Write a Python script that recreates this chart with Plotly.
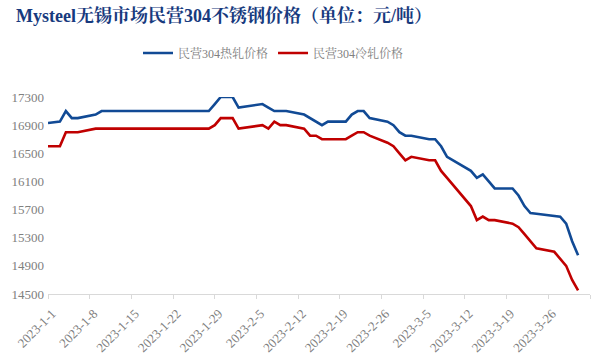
import plotly.graph_objects as go

dates = [
    "2023-01-01", "2023-01-03", "2023-01-04", "2023-01-05", "2023-01-06",
    "2023-01-09", "2023-01-10", "2023-01-11", "2023-01-12", "2023-01-13",
    "2023-01-16", "2023-01-17", "2023-01-18", "2023-01-19", "2023-01-20",
    "2023-01-28", "2023-01-29", "2023-01-30", "2023-01-31",
    "2023-02-01", "2023-02-02", "2023-02-03", "2023-02-06", "2023-02-07",
    "2023-02-08", "2023-02-09", "2023-02-10", "2023-02-13", "2023-02-14",
    "2023-02-15", "2023-02-16", "2023-02-17", "2023-02-20", "2023-02-21",
    "2023-02-22", "2023-02-23", "2023-02-24", "2023-02-27", "2023-02-28",
    "2023-03-01", "2023-03-02", "2023-03-03", "2023-03-06", "2023-03-07",
    "2023-03-08", "2023-03-09", "2023-03-10", "2023-03-13", "2023-03-14",
    "2023-03-15", "2023-03-16", "2023-03-17", "2023-03-20", "2023-03-21",
    "2023-03-22", "2023-03-23", "2023-03-24", "2023-03-27", "2023-03-28",
    "2023-03-29", "2023-03-30", "2023-03-31",
]

hot_rolled = [
    16930, 16950, 17100, 17000, 17000, 17050, 17100, 17100, 17100, 17100,
    17100, 17100, 17100, 17100, 17100, 17100, 17200, 17300, 17300,
    17300, 17150, 17160, 17200, 17150, 17100, 17100, 17100, 17050, 17000,
    16950, 16900, 16950, 16950, 17050, 17100, 17100, 17000, 16950, 16900,
    16800, 16750, 16750, 16700, 16700, 16600, 16450, 16400, 16250, 16150,
    16200, 16100, 16000, 16000, 15900, 15750, 15650, 15640, 15610, 15600,
    15500, 15250, 15050,
]

cold_rolled = [
    16600, 16600, 16800, 16800, 16800, 16850, 16850, 16850, 16850, 16850,
    16850, 16850, 16850, 16850, 16850, 16850, 16900, 17000, 17000,
    17000, 16850, 16860, 16900, 16850, 16950, 16900, 16900, 16850, 16750,
    16750, 16700, 16700, 16700, 16750, 16800, 16800, 16750, 16650, 16600,
    16500, 16400, 16450, 16400, 16400, 16250, 16150, 16050, 15750, 15550,
    15600, 15550, 15550, 15500, 15450, 15350, 15250, 15150, 15100, 15000,
    14900, 14700, 14550,
]

series_names = ["民营304热轧价格", "民营304冷轧价格"]
title_text = "Mysteel无锡市场民营304不锈钢价格（单位：元/吨）"

x_tick_vals = [
    "2023-01-01", "2023-01-08", "2023-01-15", "2023-01-22", "2023-01-29",
    "2023-02-05", "2023-02-12", "2023-02-19", "2023-02-26", "2023-03-05",
    "2023-03-12", "2023-03-19", "2023-03-26", "2023-04-02",
]
x_tick_text = [
    "2023-1-1", "2023-1-8", "2023-1-15", "2023-1-22", "2023-1-29",
    "2023-2-5", "2023-2-12", "2023-2-19", "2023-2-26", "2023-3-5",
    "2023-3-12", "2023-3-19", "2023-3-26", "",
]
y_tick_vals = [14500, 14900, 15300, 15700, 16100, 16500, 16900, 17300]

SERIF = "Liberation Serif, Noto Serif CJK SC, Noto Sans CJK SC, serif"
GRAY = "#808080"

fig = go.Figure()
fig.add_trace(go.Scatter(
    x=dates, y=hot_rolled, mode="lines", name=series_names[0],
    line=dict(color="#114A95", width=2.6),
))
fig.add_trace(go.Scatter(
    x=dates, y=cold_rolled, mode="lines", name=series_names[1],
    line=dict(color="#C00000", width=2.6),
))

fig.update_layout(
    width=605, height=360,
    margin=dict(l=48, r=15, t=97, b=66),
    paper_bgcolor="white", plot_bgcolor="white",
    title=dict(
        text="<b>" + title_text + "</b>",
        x=16 / 605, xanchor="left", xref="container",
        y=1 - 16 / 360, yanchor="middle", yref="container",
        font=dict(family=SERIF, size=18, color="#173A7E"),
    ),
    legend=dict(
        orientation="h", xref="container", yref="container",
        x=138 / 605, xanchor="left", y=1 - 53 / 360, yanchor="middle",
        font=dict(family=SERIF, size=12, color=GRAY),
        itemwidth=30, tracegroupgap=0,
    ),
    showlegend=True,
)

fig.update_xaxes(
    type="date", automargin=False,
    range=["2023-01-01", "2023-04-02"],
    tickmode="array", tickvals=x_tick_vals, ticktext=x_tick_text,
    tickangle=-45, ticklabelshift=4, ticklabelstandoff=2,
    showline=True, linecolor="#D9D9D9", linewidth=1,
    ticks="outside", ticklen=4, tickcolor="#D9D9D9",
    showgrid=False, zeroline=False,
    tickfont=dict(family=SERIF, size=13, color=GRAY),
)
fig.update_yaxes(
    automargin=False,
    range=[14500, 17300],
    tickmode="array", tickvals=y_tick_vals, tickformat="d",
    showline=False, showgrid=False, zeroline=False,
    ticks="", ticklabelstandoff=3,
    tickfont=dict(family=SERIF, size=13, color=GRAY),
)

fig.write_html(
    "out.html",
    config={"displayModeBar": False},
    post_script="document.body.style.margin='0';document.body.style.padding='0';",
)
